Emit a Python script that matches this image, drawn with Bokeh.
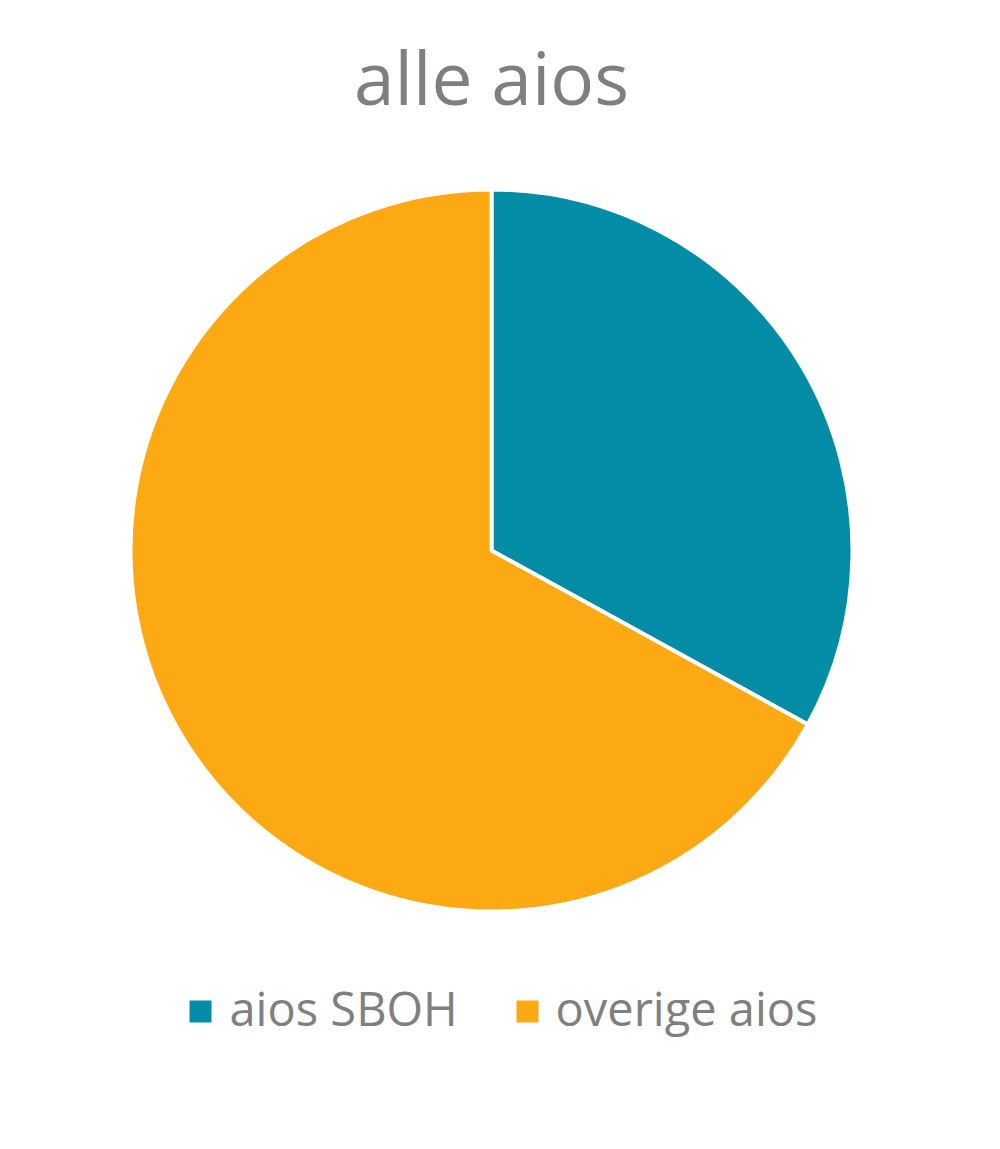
import math
from bokeh.plotting import figure
from bokeh.models import ColumnDataSource, Range1d
from bokeh.core.properties import value
from bokeh.embed import file_html
from bokeh.resources import INLINE

# Share of residents per group
title = "alle aios"
categories = ["aios SBOH", "overige aios"]
shares = [33, 67]
colors = ["#038ca6", "#fda914"]

W, H = 1000, 1149
p = figure(width=W, height=H, output_backend="svg", toolbar_location=None,
           x_range=Range1d(0, W), y_range=Range1d(0, H),
           min_border=0, outline_line_color=None, background_fill_color="white")
p.axis.visible = False
p.grid.visible = False

# wedges run clockwise from 12 o'clock
total = float(sum(shares))
starts, ends = [], []
a = math.pi / 2
for v in shares:
    b = a - 2 * math.pi * v / total
    starts.append(b)
    ends.append(a)
    a = b

cx, cy, r = 491, H - 550, 361
src = ColumnDataSource(dict(cat=categories, val=shares, color=colors,
                            start=starts, end=ends))
p.wedge(x=cx, y=cy, radius=r, start_angle="start", end_angle="end",
        fill_color="color", line_color="white", line_width=4, source=src)

# title
p.text(x=[491], y=[H - 76], text=[title], text_font=value("Open Sans"),
       text_font_size="73px", text_color="#7f7f7f", text_align="center",
       text_baseline="alphabetic")

# legend row
lx = [200, 527]
tx = [229, 555]
ly = H - 1011
p.scatter(x=lx, y=[ly, ly], marker="square", size=22, fill_color=colors,
          line_color=None)
p.text(x=tx, y=[H - 1007, H - 1007], text=categories,
       text_font=value("Open Sans"), text_font_size="47px",
       text_color="#7f7f7f", text_align="left", text_baseline="alphabetic")

open("out.html", "w").write(file_html(p, INLINE))
